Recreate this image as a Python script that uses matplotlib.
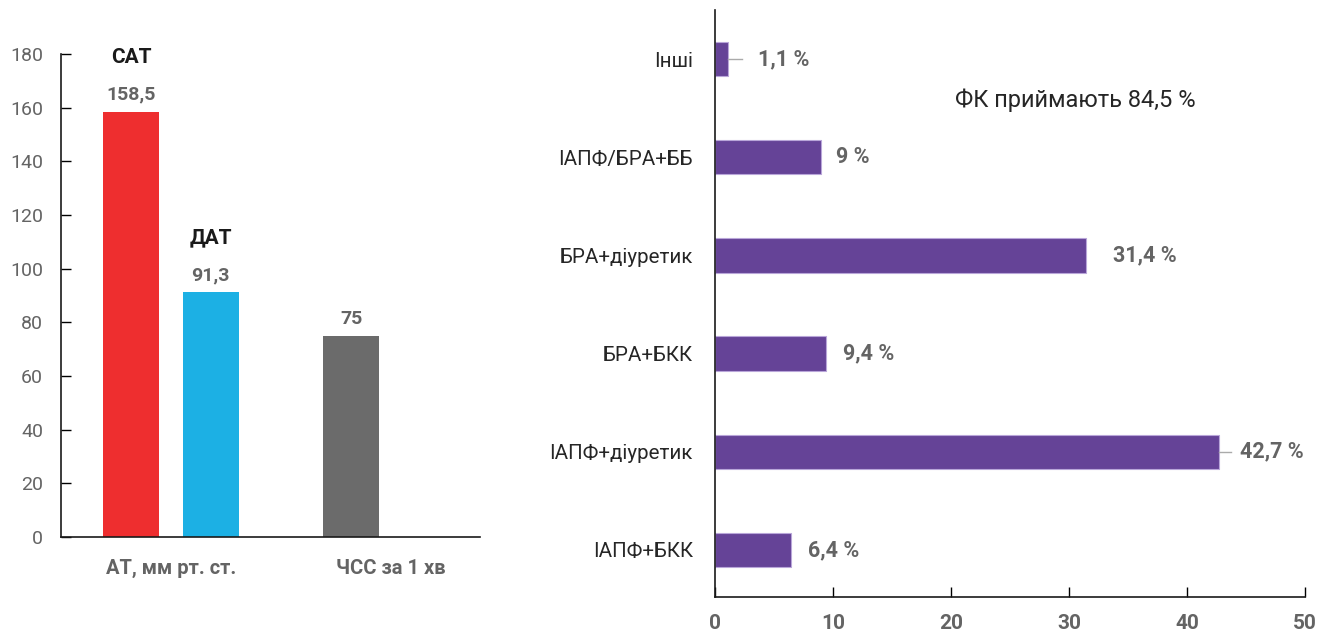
import matplotlib.pyplot as plt
import numpy as np

plt.rcParams['font.family'] = ['Roboto', 'DejaVu Sans']

# left chart data
groups = ['АТ, мм рт. ст.', 'ЧСС за 1 хв']
sat = 158.5
dat = 91.3
hr = 75
sat_label = 'САТ'
dat_label = 'ДАТ'
left_ticks = [0, 20, 40, 60, 80, 100, 120, 140, 160, 180]

# right chart data
combos = ['ІАПФ+БКК', 'ІАПФ+діуретик', 'БРА+БКК', 'БРА+діуретик', 'ІАПФ/БРА+ББ', 'Інші']
shares = [6.4, 42.7, 9.4, 31.4, 9.0, 1.1]
share_labels = ['6,4 %', '42,7 %', '9,4 %', '31,4 %', '9 %', '1,1 %']
note = 'ФК приймають 84,5 %'
right_ticks = [0, 10, 20, 30, 40, 50]

GRAY_TXT = '#646464'
DARK = '#262626'

fig = plt.figure(figsize=(13.19, 6.33), dpi=100)

# ---- left chart
ax1 = fig.add_axes([61/1319, 1-537/633, 419/1319, 483/633])
w = 0.255
off = 0.18
ax1.bar(0 - off, sat, w, color='#EE2E2F')
ax1.bar(0 + off, dat, w, color='#1CB0E4')
ax1.bar(1 - off, hr, w, color='#6B6B6B')
for x, v, txt, name in [(0 - off, sat, '158,5', sat_label), (0 + off, dat, '91,3', dat_label),
                        (1 - off, hr, '75', None)]:
    ax1.annotate(txt, (x, v), xytext=(0, 8), textcoords='offset pixels', ha='center', va='bottom',
                 fontsize=14, fontweight='bold', color=GRAY_TXT)
    if name:
        ax1.annotate(name, (x, v), xytext=(0, 45), textcoords='offset pixels', ha='center', va='bottom',
                     fontsize=15, fontweight='bold', color='#1a1a1a')
ax1.set_xlim(-0.5, 1.405)
ax1.set_ylim(0, 180)
ax1.set_yticks(left_ticks)
ax1.set_xticks([0, 1])
ax1.set_xticklabels(groups, fontsize=14.5, fontweight='bold', color=GRAY_TXT)
ax1.tick_params(axis='x', length=0, pad=16)
ax1.tick_params(axis='y', direction='in', length=7, width=1, labelsize=14, labelcolor=GRAY_TXT, pad=13)
for s in ['top', 'right']:
    ax1.spines[s].set_visible(False)
for s in ['left', 'bottom']:
    ax1.spines[s].set_color('#1a1a1a')
    ax1.spines[s].set_linewidth(1.2)

# ---- right chart
ax2 = fig.add_axes([715/1319, 1-597/633, 590/1319, 587/633])
ypos = np.arange(len(combos))
ax2.barh(ypos, shares, 0.35, color='#654397', edgecolor='#b9a6d9', linewidth=0.8)
gaps = [17, 21, 17, 27, 15, 30]
leaders = [0, 12, 0, 0, 0, 14]
px = 590 / 50
for y, v, txt, g, ld in zip(ypos, shares, share_labels, gaps, leaders):
    ax2.annotate(txt, (v, y), xytext=(g, 0), textcoords='offset pixels', ha='left', va='center',
                 fontsize=15.5, fontweight='bold', color=GRAY_TXT)
    if ld:
        ax2.plot([v, v + ld / px], [y, y], color='#aaaaaa', lw=1)
ax2.text((955 - 715) / 590, (597 - 100) / 587, note, transform=ax2.transAxes, fontsize=17,
         color=DARK, ha='left', va='center')
ax2.set_xlim(0, 50)
ax2.set_ylim(-0.48, 5.5)
ax2.set_xticks(right_ticks)
ax2.set_yticks(ypos)
ax2.set_yticklabels(combos, fontsize=14.8, color=DARK)
ax2.tick_params(axis='y', length=0, pad=16)
ax2.tick_params(axis='x', direction='in', length=7, width=1, labelsize=15, labelcolor=GRAY_TXT, pad=12)
for lbl in ax2.get_xticklabels():
    lbl.set_fontweight('bold')
for s in ['top', 'right']:
    ax2.spines[s].set_visible(False)
for s in ['left', 'bottom']:
    ax2.spines[s].set_color('#1a1a1a')
    ax2.spines[s].set_linewidth(1.2)

fig.savefig('out.png', dpi=100)
